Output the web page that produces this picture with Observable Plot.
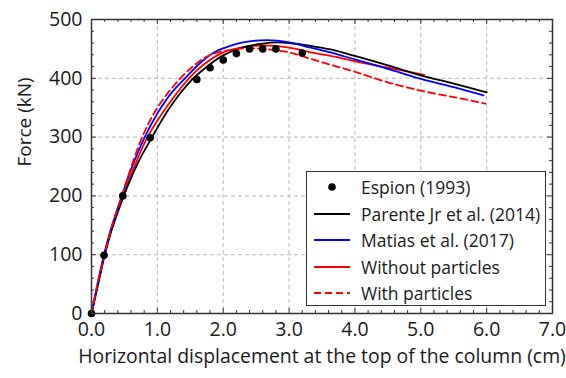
<!DOCTYPE html>
<html><head><meta charset="utf-8">
<script src="https://cdn.jsdelivr.net/npm/d3@7"></script>
<script src="https://cdn.jsdelivr.net/npm/@observablehq/plot@0.6"></script>
<style>
body{margin:0;background:#fff;}
#wrap{position:relative;width:566px;height:378px;font-family:"Open Sans",sans-serif;color:#1a1a1a;}
#legend{position:absolute;left:306px;top:171px;width:240px;height:135px;border:1.5px solid #333;background:#fff;box-sizing:border-box;}
#legend .row{position:absolute;left:0;height:26px;}
#legend .row span{position:absolute;left:54px;top:0;white-space:nowrap;font-size:17.5px;line-height:26px;}
#legend svg{position:absolute;left:7px;top:8px;}
</style></head><body><div id="wrap"></div>
<script>
// Espion (1993) experimental points
const espionX = [0, 0.19, 0.475, 0.89, 1.6, 1.8, 2.0, 2.2, 2.4, 2.6, 2.8, 3.2];
const espionY = [0, 99, 200, 299, 398, 418, 431, 442, 450, 450, 450, 443];
// Parente Jr et al. (2014)
const parenteX = [0, 0.1, 0.2, 0.3, 0.49, 0.7, 0.92, 1.2, 1.53, 1.8, 2.0, 2.31, 2.6, 2.82, 3.0, 3.33, 3.63, 4.0, 4.5, 5.0, 5.5, 6.0];
const parenteY = [0, 50, 100, 140, 200, 255, 300, 352, 398, 424, 439, 453, 459, 461, 460, 455, 449, 438, 422, 405, 391, 376];
// Matias et al. (2017)
const matiasX = [0, 0.1, 0.2, 0.3, 0.46, 0.6, 0.8, 1.0, 1.2, 1.42, 1.65, 1.88, 2.0, 2.3, 2.67, 3.0, 3.33, 3.63, 4.0, 4.5, 5.0, 5.5, 5.95];
const matiasY = [0, 55, 105, 145, 200, 245, 298, 340, 373, 400, 426, 445, 451, 461, 465, 461, 452, 444, 432, 416, 399, 385, 371];
// Without particles
const withoutX = [0, 0.1, 0.2, 0.3, 0.48, 0.65, 0.85, 1.1, 1.48, 1.7, 2.0, 2.31, 2.62, 3.0, 3.33, 3.63, 4.0, 4.5, 5.05];
const withoutY = [0, 50, 100, 142, 200, 250, 300, 345, 400, 423, 444, 453, 456, 452, 444, 438, 429, 418, 406];
// With particles
const withX = [0, 0.1, 0.2, 0.3, 0.46, 0.6, 0.77, 1.0, 1.35, 1.65, 1.81, 2.0, 2.31, 2.6, 3.0, 3.33, 3.63, 4.0, 4.5, 5.0, 5.5, 5.98];
const withY = [0, 55, 100, 145, 200, 248, 300, 350, 400, 430, 440, 446, 451, 450, 444, 433, 423, 411, 393, 379, 368, 357];

const xTickValues = [0, 1, 2, 3, 4, 5, 6, 7];
const xTickLabels = ["0.0", "1.0", "2.0", "3.0", "4.0", "5.0", "6.0", "7.0"];
const yTickValues = [0, 100, 200, 300, 400, 500];
const yTickLabels = ["0", "100", "200", "300", "400", "500"];
const xMinorTicks = [0.2,0.4,0.6,0.8,1.2,1.4,1.6,1.8,2.2,2.4,2.6,2.8,3.2,3.4,3.6,3.8,4.2,4.4,4.6,4.8,5.2,5.4,5.6,5.8,6.2,6.4,6.6,6.8];
const yMinorTicks = [20,40,60,80,120,140,160,180,220,240,260,280,320,340,360,380,420,440,460,480];

const seriesNames = ["Espion (1993)", "Parente Jr et al. (2014)", "Matias et al. (2017)", "Without particles", "With particles"];
const seriesColors = ["#000000", "#000000", "#0000ff", "#ff0000", "#ff0000"];
const xTitle = "Horizontal displacement at the top of the column (cm)";
const yTitle = "Force (kN)";

const zip = (xs, ys) => xs.map((x, i) => ({x, y: ys[i]}));
const espion = zip(espionX, espionY);
const parente = zip(parenteX, parenteY);
const matias = zip(matiasX, matiasY);
const without = zip(withoutX, withoutY);
const withP = zip(withX, withY);

const W = 566, H = 378, mL = 91, mR = 14, mT = 19, mB = 65;
const xUnitPerPx = 7 / (W - mL - mR);
const yUnitPerPx = 500 / (H - mT - mB);
const majLen = 5, minLen = 3;
const textColor = "#1a1a1a";

const lineOpts = {x: "x", y: "y", curve: "catmull-rom", strokeWidth: 1.8};

const plot = Plot.plot({
  width: W, height: H,
  marginLeft: mL, marginRight: mR, marginTop: mT, marginBottom: mB,
  style: {fontFamily: "'Open Sans', sans-serif", fontSize: "19px", color: textColor, background: "#fff"},
  x: {domain: [0, 7], axis: null},
  y: {domain: [0, 500], axis: null},
  marks: [
    Plot.gridX(xTickValues.slice(1, -1), {stroke: "#b8b8b8", strokeOpacity: 1, strokeDasharray: "4,3"}),
    Plot.gridY(yTickValues.slice(1, -1), {stroke: "#b8b8b8", strokeOpacity: 1, strokeDasharray: "4,3"}),
    // tick labels
    Plot.text(xTickValues, {x: d => d, frameAnchor: "bottom", lineAnchor: "top", dy: 9, text: (d, i) => xTickLabels[i], fontSize: 19.5, fill: textColor}),
    Plot.text(yTickValues, {y: d => d, frameAnchor: "left", textAnchor: "end", dx: -9, text: (d, i) => yTickLabels[i], fontSize: 19.5, fill: textColor}),
    // inward ticks on all four sides
    Plot.ruleX(xTickValues, {x: d => d, y1: 0, y2: majLen * yUnitPerPx, stroke: "#333"}),
    Plot.ruleX(xMinorTicks, {x: d => d, y1: 0, y2: minLen * yUnitPerPx, stroke: "#333"}),
    Plot.ruleX(xTickValues, {x: d => d, y1: 500 - majLen * yUnitPerPx, y2: 500, stroke: "#333"}),
    Plot.ruleX(xMinorTicks, {x: d => d, y1: 500 - minLen * yUnitPerPx, y2: 500, stroke: "#333"}),
    Plot.ruleY(yTickValues, {y: d => d, x1: 0, x2: majLen * xUnitPerPx, stroke: "#333"}),
    Plot.ruleY(yMinorTicks, {y: d => d, x1: 0, x2: minLen * xUnitPerPx, stroke: "#333"}),
    Plot.ruleY(yTickValues, {y: d => d, x1: 7 - majLen * xUnitPerPx, x2: 7, stroke: "#333"}),
    Plot.ruleY(yMinorTicks, {y: d => d, x1: 7 - minLen * xUnitPerPx, x2: 7, stroke: "#333"}),
    Plot.line(without, {...lineOpts, stroke: seriesColors[3]}),
    Plot.line(parente, {...lineOpts, stroke: seriesColors[1]}),
    Plot.line(matias, {...lineOpts, stroke: seriesColors[2]}),
    Plot.line(withP, {...lineOpts, stroke: seriesColors[4], strokeDasharray: "7,4"}),
    Plot.dot(espion, {x: "x", y: "y", r: 3.8, fill: seriesColors[0], stroke: "none"}),
    Plot.frame({stroke: "#333", strokeWidth: 1.5}),
    Plot.text([0], {frameAnchor: "bottom", dy: 49, text: () => xTitle, fontSize: 19.4, fill: textColor}),
    Plot.text([0], {frameAnchor: "left", dx: -67, rotate: -90, text: () => yTitle, fontSize: 19, fill: textColor})
  ]
});

const wrap = document.getElementById("wrap");
wrap.appendChild(plot);

const legend = document.createElement("div");
legend.id = "legend";
const rowTops = [2, 28.5, 55, 81.5, 108];
seriesNames.forEach((name, i) => {
  const row = document.createElement("div");
  row.className = "row";
  row.style.top = rowTops[i] + "px";
  let sample;
  if (i === 0) {
    sample = `<svg width="36" height="10"><circle cx="18" cy="5" r="3.8" fill="${seriesColors[i]}"/></svg>`;
  } else {
    const dash = i === 4 ? ' stroke-dasharray="7,4"' : '';
    sample = `<svg width="36" height="10"><line x1="0" x2="36" y1="5" y2="5" stroke="${seriesColors[i]}" stroke-width="1.8"${dash}/></svg>`;
  }
  row.innerHTML = sample + `<span>${name}</span>`;
  legend.appendChild(row);
});
wrap.appendChild(legend);
</script>
</body></html>
